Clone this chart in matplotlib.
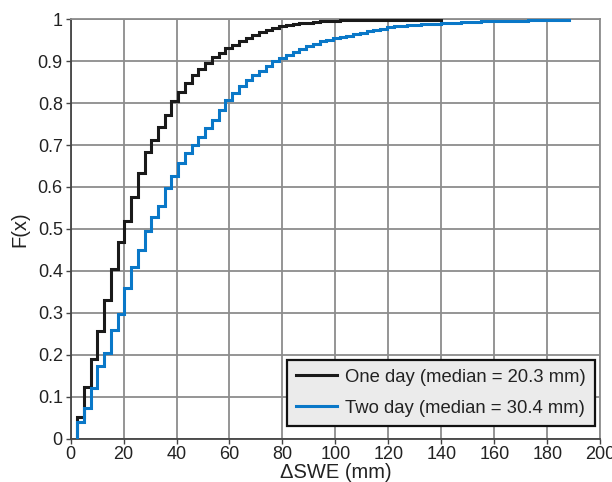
import matplotlib
matplotlib.use("Agg")
import matplotlib.pyplot as plt

# One-day ΔSWE values (mm) and empirical CDF
one_day_swe = [2.54, 5.08, 7.62, 10.16, 12.70, 15.24, 17.78, 20.32, 22.86, 25.40,
               27.94, 30.48, 33.02, 35.56, 38.10, 40.64, 43.18, 45.72, 48.26, 50.80,
               53.34, 55.88, 58.42, 60.96, 63.50, 66.04, 68.58, 71.12, 73.66, 76.20,
               78.74, 81.28, 83.82, 86.36, 88.90, 91.44, 93.98, 96.52, 99.06, 101.60,
               139.70]
one_day_F = [0.052, 0.122, 0.189, 0.256, 0.331, 0.405, 0.469, 0.518, 0.575, 0.634,
             0.683, 0.713, 0.744, 0.771, 0.804, 0.827, 0.848, 0.867, 0.881, 0.895,
             0.909, 0.919, 0.931, 0.939, 0.947, 0.956, 0.963, 0.969, 0.975, 0.980,
             0.984, 0.987, 0.989, 0.991, 0.992, 0.994, 0.995, 0.996, 0.997, 0.998,
             1.000]

# Two-day ΔSWE values (mm) and empirical CDF
two_day_swe = [2.54, 5.08, 7.62, 10.16, 12.70, 15.24, 17.78, 20.32, 22.86, 25.40,
               27.94, 30.48, 33.02, 35.56, 38.10, 40.64, 43.18, 45.72, 48.26, 50.80,
               53.34, 55.88, 58.42, 60.96, 63.50, 66.04, 68.58, 71.12, 73.66, 76.20,
               78.74, 81.28, 83.82, 86.36, 88.90, 91.44, 93.98, 96.52, 99.06, 101.60,
               104.14, 106.68, 109.22, 111.76, 114.30, 116.84, 119.38, 121.92, 124.46, 127.00,
               132.08, 139.70, 147.32, 154.94, 162.56, 172.72, 187.96]
two_day_F = [0.040, 0.072, 0.121, 0.173, 0.205, 0.260, 0.298, 0.360, 0.409, 0.450,
             0.496, 0.528, 0.555, 0.597, 0.626, 0.658, 0.680, 0.700, 0.720, 0.740,
             0.760, 0.783, 0.807, 0.823, 0.840, 0.856, 0.868, 0.876, 0.888, 0.900,
             0.907, 0.915, 0.923, 0.930, 0.936, 0.942, 0.947, 0.951, 0.955, 0.958,
             0.961, 0.964, 0.968, 0.971, 0.974, 0.978, 0.981, 0.983, 0.985, 0.986,
             0.988, 0.991, 0.993, 0.995, 0.997, 0.998, 1.000]

labels = ["One day (median = 20.3 mm)", "Two day (median = 30.4 mm)"]
colors = ["#1a1a1a", "#0a78c8"]

x_ticks = [0, 20, 40, 60, 80, 100, 120, 140, 160, 180, 200]
y_ticks = [0, 0.1, 0.2, 0.3, 0.4, 0.5, 0.6, 0.7, 0.8, 0.9, 1]
y_ticklabels = ["0", "0.1", "0.2", "0.3", "0.4", "0.5", "0.6", "0.7", "0.8", "0.9", "1"]

plt.rcParams['font.family'] = ['Liberation Sans', 'DejaVu Sans']

fig = plt.figure(figsize=(6.12, 4.82), dpi=100)
ax = fig.add_axes([0.1152, 0.0902, 0.866, 0.8698])

for xs, fs, lab, col in [(one_day_swe, one_day_F, labels[0], colors[0]),
                         (two_day_swe, two_day_F, labels[1], colors[1])]:
    ax.step([xs[0]] + xs, [0.0] + fs, where='post', color=col, lw=2.2,
            label=lab, zorder=3, solid_joinstyle='miter')

ax.set_xlim(0, 200)
ax.set_ylim(0, 1)
ax.set_xticks(x_ticks)
ax.set_yticks(y_ticks)
ax.set_yticklabels(y_ticklabels)
ax.grid(True, color="#8c8c8c", lw=1.3, zorder=0)
ax.set_axisbelow(True)
for side in ["top", "right"]:
    ax.spines[side].set_color("#8c8c8c")
    ax.spines[side].set_linewidth(1.3)
for side in ["left", "bottom"]:
    ax.spines[side].set_color("#444444")
    ax.spines[side].set_linewidth(1.3)
ax.tick_params(axis='both', labelsize=13, length=3.5, width=1.0, pad=2,
               colors="#444444", labelcolor="#222222")

ax.set_xlabel("ΔSWE (mm)", fontsize=14.5, color="#222222", labelpad=0)
ax.set_ylabel("F(x)", fontsize=14.5, color="#222222", labelpad=6)

leg = ax.legend(loc='lower right', bbox_to_anchor=(0.99, 0.030), fontsize=13.3,
                frameon=True, fancybox=False, framealpha=1, facecolor="#ebebeb",
                edgecolor="#111111", handlelength=2.2, handletextpad=0.45,
                borderpad=0.5, labelspacing=0.75, borderaxespad=0)
leg.get_frame().set_linewidth(1.6)
for t in leg.get_texts():
    t.set_color("#222222")

fig.savefig("out.png", dpi=100)
